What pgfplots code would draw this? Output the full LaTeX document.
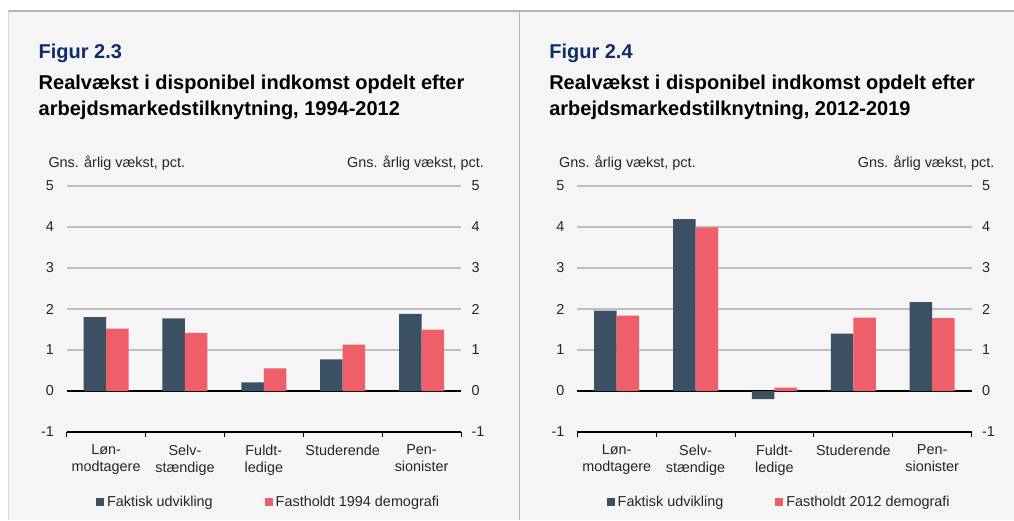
\documentclass[border=0pt]{standalone}
\usepackage{pgfplots}
\pgfplotsset{compat=1.18}
\usepackage{pgfplotstable}
\usepackage{fontspec}
\setmainfont{Liberation Sans}
\definecolor{bg}{HTML}{F5F5F5}
\definecolor{dark}{HTML}{3B5163}
\definecolor{redc}{HTML}{EF5F6A}
\definecolor{navy}{HTML}{0F2D6B}
\definecolor{gridc}{HTML}{BEBEBE}
\definecolor{linec}{HTML}{B4B4B4}
\newcommand\titlefont{\fontsize{20}{23}\selectfont\bfseries}
\newcommand\smallf{\fontsize{14.4}{16.8}\selectfont}

\pgfplotstableread{
x a b
0 1.80 1.52
1 1.77 1.42
2 0.21 0.55
3 0.77 1.13
4 1.88 1.50
}\lefttab
\pgfplotstableread{
x a b
0 1.96 1.84
1 4.19 3.99
2 -0.20 0.08
3 1.40 1.79
4 2.17 1.78
}\righttab

\pgfplotsset{
  frame/.style={
    scale only axis, width=394.3pt, height=246pt, anchor=south west,
    xmin=-0.5, xmax=4.5, ymin=-1, ymax=5,
    tick label style={font=\smallf, text=black!85},
    /pgf/number format/assume math mode=true,
  },
  panel/.style={
    frame,
    axis line style={draw=none},
    ytick={1,2,3,4,5},
    extra y ticks={-1,0},
    extra y tick style={major grid style={black, line width=1.1pt}},
    ymajorgrids, major grid style={gridc, line width=1.1pt},
    ytick style={draw=none},
    ytick pos=left,
    yticklabel style={xshift=-5pt},
    xtick={0,1,2,3,4},
    xticklabels={{Løn-\\modtagere},{Selv-\\stændige},{Fuldt-\\ledige},{Studerende},{Pen-\\sionister}},
    xticklabel style={align=center, anchor=north, yshift=-5pt},
    major x tick style={draw=none},
    minor xtick={-0.5,0.5,1.5,2.5,3.5,4.5},
    minor x tick style={draw=black, line width=1pt},
    minor tick length=5pt,
    tick align=outside,
    xtick pos=bottom,
    ybar=0pt, bar width=22.5pt,
    legend columns=2,
    legend style={at={(0.512,-0.284)}, anchor=center, draw=none, fill=none,
      font=\smallf, text=black!85,
      /tikz/every even column/.append style={column sep=50pt},
      /tikz/every odd column/.append style={column sep=1pt}},
  },
  rlabels/.style={
    frame,
    hide x axis,
    axis y line*=right,
    y axis line style={draw=none},
    ytick={-1,0,1,2,3,4,5},
    ytick style={draw=none},
    yticklabel style={xshift=7pt},
  },
  sq/.style={legend image code/.code={\fill[##1] (0pt,-4pt) rectangle (8pt,4pt);}},
}

\begin{document}
\begin{tikzpicture}[x=1pt,y=1pt]
\useasboundingbox (0,0) rectangle (1014,520);
\fill[bg] (8,0) rectangle (1014,509);
\draw[linec, line width=1.2pt] (8,509) -- (1014,509);
\draw[linec, line width=1.2pt] (519.5,0) -- (519.5,509);
\draw[linec!50, line width=0.8pt] (8.4,0) -- (8.4,509);

% Titles left
\node[anchor=base west, inner sep=0, font=\titlefont, text=navy] at (38.5,461) {Figur 2.3};
\node[anchor=base west, inner sep=0, font=\titlefont] at (38.5,430) {Realvækst i disponibel indkomst opdelt efter};
\node[anchor=base west, inner sep=0, font=\titlefont] at (38.5,404) {arbejdsmarkedstilknytning, 1994-2012};
\node[anchor=base west, inner sep=0, font=\smallf, text=black!85] at (48.3,352.5) {Gns. årlig vækst, pct.};
\node[anchor=base east, inner sep=0, font=\smallf, text=black!85] at (484,352.5) {Gns. årlig vækst, pct.};

% Titles right
\node[anchor=base west, inner sep=0, font=\titlefont, text=navy] at (549.1,461) {Figur 2.4};
\node[anchor=base west, inner sep=0, font=\titlefont] at (549.1,430) {Realvækst i disponibel indkomst opdelt efter};
\node[anchor=base west, inner sep=0, font=\titlefont] at (549.1,404) {arbejdsmarkedstilknytning, 2012-2019};
\node[anchor=base west, inner sep=0, font=\smallf, text=black!85] at (558.9,352.5) {Gns. årlig vækst, pct.};
\node[anchor=base east, inner sep=0, font=\smallf, text=black!85] at (994.6,352.5) {Gns. årlig vækst, pct.};

\begin{axis}[panel, at={(66.7pt,88pt)}]
\addplot[fill=dark, draw=none, sq] table[x=x, y=a] {\lefttab};
\addplot[fill=redc, draw=none, sq] table[x=x, y=b] {\lefttab};
\legend{Faktisk udvikling, Fastholdt 1994 demografi}
\end{axis}
\begin{axis}[rlabels, at={(66.7pt,88pt)}]
\addplot[draw=none] coordinates {(0,0)};
\end{axis}

\begin{axis}[panel, at={(577.3pt,88pt)}]
\addplot[fill=dark, draw=none, sq] table[x=x, y=a] {\righttab};
\addplot[fill=redc, draw=none, sq] table[x=x, y=b] {\righttab};
\legend{Faktisk udvikling, Fastholdt 2012 demografi}
\end{axis}
\begin{axis}[rlabels, at={(577.3pt,88pt)}]
\addplot[draw=none] coordinates {(0,0)};
\end{axis}
\end{tikzpicture}
\end{document}
